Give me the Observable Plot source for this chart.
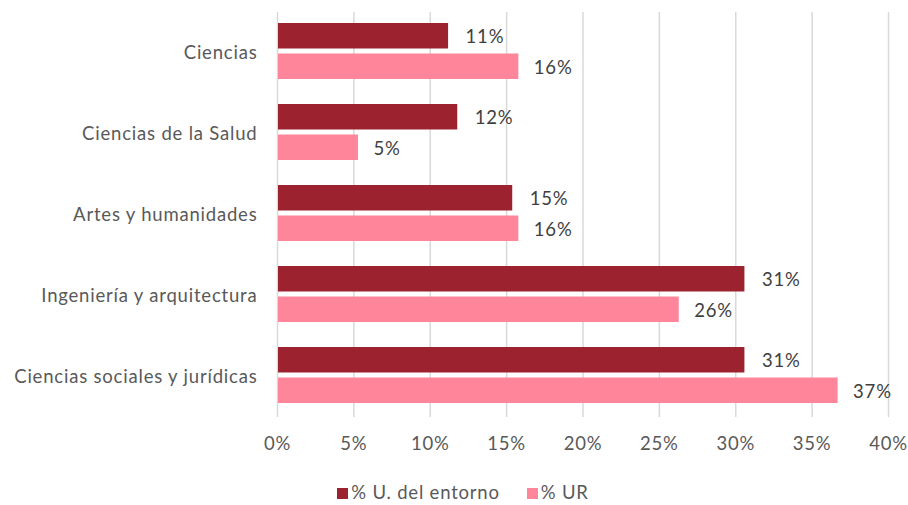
<!DOCTYPE html>
<html>
<head>
<meta charset="utf-8">
<script src="https://cdn.jsdelivr.net/npm/d3@7"></script>
<script src="https://cdn.jsdelivr.net/npm/@observablehq/plot@0.6"></script>
<style>
  body { margin: 0; background: #fff; font-family: Lato, "Noto Sans", sans-serif; }
  #legend { display: flex; justify-content: center; gap: 27px; font-size: 18.5px; letter-spacing: 0.8px; color: #595959; margin-left: 18px; margin-top: 11px; }
  #legend span.sw { display: inline-block; width: 11px; height: 11px; margin-right: 3px; vertical-align: 0px; }
</style>
</head>
<body>
<div id="chart"></div>
<div id="legend"></div>
<script>
const categories = ["Ciencias", "Ciencias de la Salud", "Artes y humanidades", "Ingeniería y arquitectura", "Ciencias sociales y jurídicas"];
const seriesNames = ["% U. del entorno", "% UR"];
const entorno = [11.2, 11.8, 15.4, 30.6, 30.6];
const ur = [15.8, 5.3, 15.8, 26.3, 36.7];
const xTicks = [0, 5, 10, 15, 20, 25, 30, 35, 40];
const colors = ["#9c2230", "#ff859b"];

const dEnt = categories.map((c, i) => ({cat: c, v: entorno[i]}));
const dUr = categories.map((c, i) => ({cat: c, v: ur[i]}));
const fmt = d => Math.round(d.v) + "%";

const plot = Plot.plot({
  width: 908,
  height: 470,
  marginTop: 12,
  marginBottom: 53,
  marginLeft: 277,
  marginRight: 20,
  style: {fontFamily: "Lato, 'Noto Sans', sans-serif", fontSize: "18.5px", letterSpacing: "0.8px", color: "#595959", background: "#fff"},
  x: {domain: [0, 40], ticks: xTicks, tickFormat: d => d + "%", tickSize: 0, tickPadding: 19, label: null},
  y: {domain: categories, padding: 0, tickSize: 0, tickPadding: 20, label: null},
  marks: [
    Plot.ruleX(xTicks, {stroke: "#d9d9d9", strokeWidth: 1.5}),
    Plot.barX(dEnt, {x: "v", y: "cat", fill: colors[0], insetTop: 11, insetBottom: 44.5, insetLeft: 1}),
    Plot.barX(dUr, {x: "v", y: "cat", fill: colors[1], insetTop: 41.5, insetBottom: 14, insetLeft: 1}),
    Plot.text(dEnt, {x: "v", y: "cat", text: fmt, dx: 17, dy: -16, textAnchor: "start", fill: "#404040", fontSize: 18.5}),
    Plot.text(dUr, {x: "v", y: "cat", text: fmt, dx: 15, dy: 15, textAnchor: "start", fill: "#404040", fontSize: 18.5})
  ]
});
document.getElementById("chart").appendChild(plot);

const legend = document.getElementById("legend");
seriesNames.forEach((n, i) => {
  const item = document.createElement("div");
  item.innerHTML = `<span class="sw" style="background:${colors[i]}"></span>${n}`;
  legend.appendChild(item);
});
</script>
</body>
</html>
